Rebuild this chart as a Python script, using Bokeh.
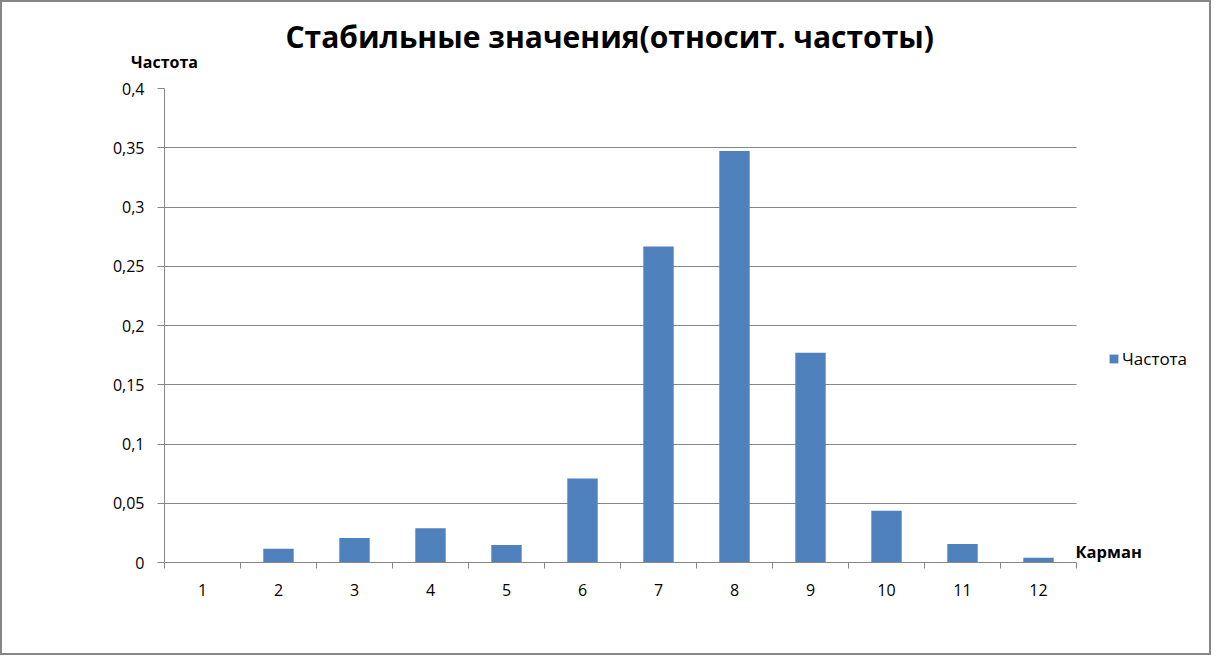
from bokeh.plotting import figure
from bokeh.models import (FixedTicker, Legend, LegendItem, Range1d, ColumnDataSource,
                          LinearAxis, Title, Label)
from bokeh.embed import file_html
from bokeh.resources import INLINE

pockets = [1, 2, 3, 4, 5, 6, 7, 8, 9, 10, 11, 12]
freq = [0.0, 0.0115, 0.0206, 0.0288, 0.0148, 0.0708, 0.2667, 0.3473, 0.177, 0.0436, 0.0156, 0.0041]
y_ticks = [0, 0.05, 0.1, 0.15, 0.2, 0.25, 0.3, 0.35, 0.4]
y_tick_labels = ["0", "0,05", "0,1", "0,15", "0,2", "0,25", "0,3", "0,35", "0,4"]
title_text = "Стабильные значения(относит. частоты)"
y_label = "Частота"
x_label = "Карман"
series_name = "Частота"

FONT = "Open Sans"
GRID = "#868686"
BAR = "#4F81BD"
TXT = "black"

# category axis spans 0.5..12.5 (912 px); frame continues to the right for legend / caption
X_END = 12.5 + 135 / 76.0

p = figure(width=1211, height=655, output_backend="svg", toolbar_location=None,
           x_range=Range1d(0.5, X_END), y_range=Range1d(0, 0.4),
           min_border_left=162, min_border_right=2, min_border_top=86, min_border_bottom=95)
p.outline_line_color = None
p.background_fill_color = "white"
p.border_fill_color = "white"
p.styles = {"border": "2px solid #868686", "box-sizing": "border-box"}

src = ColumnDataSource(dict(x=pockets, top=freq))
r = p.vbar(x="x", top="top", width=0.4, source=src, fill_color=BAR, line_color=None)

# x axis
p.xaxis.bounds = (0.5, 12.5)
p.xaxis.ticker = FixedTicker(ticks=pockets, minor_ticks=[i + 0.5 for i in range(0, 13)])
p.xaxis.major_tick_out = 0
p.xaxis.major_tick_in = 0
p.xaxis.minor_tick_out = 6
p.xaxis.minor_tick_in = 0
p.xaxis.minor_tick_line_color = GRID
p.xaxis.axis_line_color = GRID
p.xaxis.major_label_text_font = FONT
p.xaxis.major_label_text_font_size = "16px"
p.xaxis.major_label_text_color = TXT
p.xaxis.major_label_standoff = 15
p.xgrid.grid_line_color = None

# y axis
p.yaxis.ticker = FixedTicker(ticks=y_ticks)
p.yaxis.major_label_overrides = {t: l for t, l in zip(y_ticks, y_tick_labels)}
p.yaxis.major_tick_out = 7
p.yaxis.major_tick_in = 0
p.yaxis.minor_tick_line_color = None
p.yaxis.major_tick_line_color = GRID
p.yaxis.axis_line_color = GRID
p.yaxis.major_label_text_font = FONT
p.yaxis.major_label_text_font_size = "16px"
p.yaxis.major_label_text_color = TXT
p.yaxis.major_label_standoff = 13
p.ygrid.grid_line_color = GRID
p.ygrid.grid_line_width = 1
p.ygrid.cross_bounds = (0.5, 12.5)

# y-axis caption at top-left (an axis above with a single labelled tick)
cap_axis = LinearAxis(ticker=FixedTicker(ticks=[0.5]), major_label_overrides={0.5: y_label},
                      axis_line_color=None, major_tick_line_color=None, minor_tick_line_color=None,
                      major_label_text_font=FONT, major_label_text_font_style="bold",
                      major_label_text_color=TXT,
                      major_label_text_font_size="16px", major_label_standoff=10)
p.add_layout(cap_axis, "above")

p.add_layout(Title(text=title_text, text_font=FONT, text_font_style="bold", text_color=TXT,
                   text_font_size="30px", align="left", offset=121, standoff=-19), "above")

# x-axis caption at the right end of the x axis
p.add_layout(Label(x=12.487, y=0.0096, text=x_label, text_font=FONT, text_font_style="bold",
                   text_color=TXT, text_font_size="16.5px", text_align="left",
                   text_baseline="middle"))

legend = Legend(items=[LegendItem(label=series_name, renderers=[r])],
                location=(944, 192), border_line_color=None, background_fill_alpha=0,
                glyph_width=11, glyph_height=11, label_text_font=FONT, label_text_color=TXT,
                label_text_font_size="17px", label_standoff=3, padding=0, margin=0)
p.add_layout(legend, "center")

open("out.html", "w").write(file_html(p, INLINE))
